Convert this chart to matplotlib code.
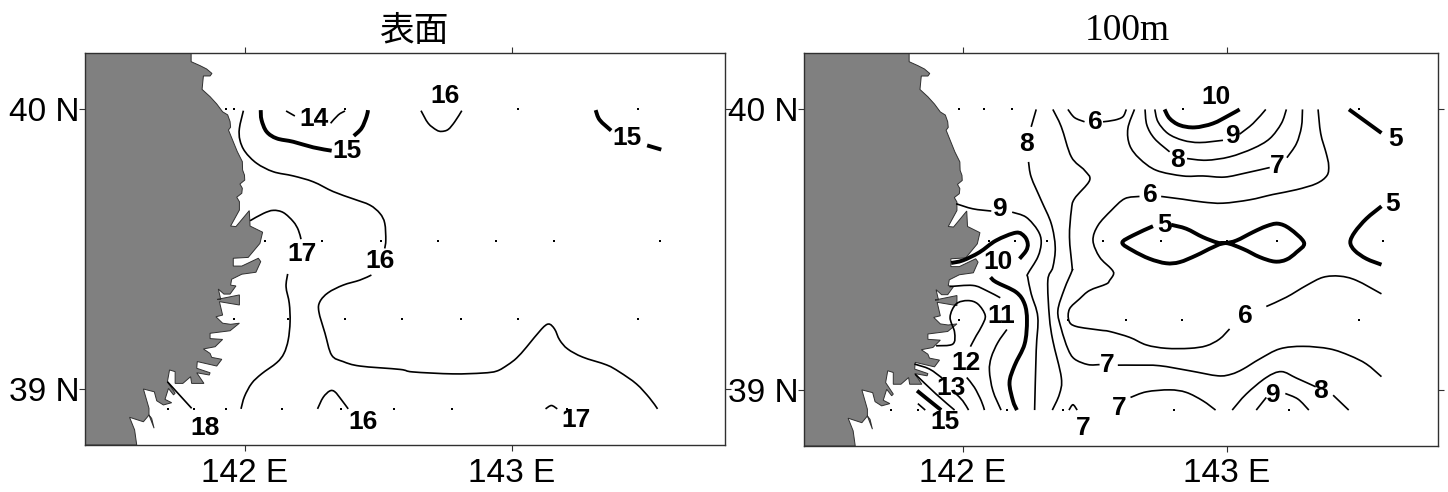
import matplotlib
matplotlib.use("Agg")
import matplotlib.pyplot as plt
from matplotlib.path import Path
from matplotlib.patches import PathPatch

plt.rcParams['font.family'] = ['Liberation Sans', 'Noto Sans CJK JP', 'DejaVu Sans']

# coast line, lon / lat
coast = [(141.798,40.20),(141.798,40.169),(141.831,40.155),(141.856,40.143),(141.876,40.127),(141.869,40.118),
    (141.844,40.118),(141.839,40.070),(141.869,40.044),(141.894,40.018),(141.916,39.990),(141.935,39.979),
    (141.944,39.955),(141.946,39.935),(141.938,39.925),(141.956,39.883),(141.971,39.848),(141.990,39.812),
    (141.991,39.782),(141.998,39.764),(141.999,39.746),(141.981,39.732),(141.990,39.717),(141.988,39.699),
    (141.969,39.685),(141.979,39.669),(141.979,39.639),(141.946,39.582),(141.966,39.580),(142.016,39.637),
    (142.019,39.582),(142.066,39.560),(142.056,39.520),(142.012,39.470),(141.956,39.467),(141.956,39.439),
    (141.988,39.439),(142.050,39.467),(142.059,39.455),(142.041,39.417),(141.988,39.410),(141.950,39.392),
    (141.946,39.371),(141.966,39.368),(141.944,39.339),(141.921,39.339),(141.900,39.357),(141.909,39.320),
    (141.896,39.320),(141.979,39.336),(141.979,39.300),(141.904,39.312),(141.916,39.264),(141.891,39.258),
    (141.916,39.235),(141.946,39.231),(141.979,39.235),(141.944,39.208),(141.869,39.199),(141.869,39.180),
    (141.916,39.177),(141.888,39.151),(141.844,39.143),(141.869,39.127),(141.875,39.113),(141.913,39.106),
    (141.894,39.082),(141.821,39.098),(141.819,39.074),(141.869,39.058),(141.866,39.050),(141.819,39.058),
    (141.846,39.020),(141.800,39.020),(141.796,39.044),(141.767,39.020),(141.738,39.020),(141.738,39.062),
    (141.717,39.068),(141.709,39.026),(141.738,38.985),(141.732,38.979),(141.713,39.002),(141.700,38.963),
    (141.725,38.951),(141.694,38.943),(141.669,38.958),(141.660,38.990),(141.619,39.000),(141.640,38.931),
    (141.640,38.907),(141.659,38.860),(141.650,38.895),(141.640,38.907),(141.619,38.883),(141.567,38.899),
    (141.586,38.854),(141.594,38.80),(141.40,38.80),(141.40,40.20)]

# station points
sfc_st_lon = [141.929,141.96,142.375,143.025,143.475,
    142.075,142.29,142.51,142.725,142.94,143.157,143.557,
    141.96,142.16,142.375,142.59,142.81,143.025,143.475,
    141.71,141.81,141.93,142.14,142.36,142.56,142.775,143.206]
sfc_st_lat = [40.0]*5 + [39.53]*7 + [39.25]*7 + [38.93]*8
m100_st_lon = [141.985,142.083,142.186,142.833,143.5,
    142.10,142.20,142.32,142.53,142.75,143.0,143.19,143.59,
    141.985,142.40,142.62,142.83,143.5,
    141.73,141.83,142.17,142.38,142.80,143.235]
m100_st_lat = [40.0]*5 + [39.53]*8 + [39.25]*5 + [38.93]*6

# surface contours
s16_a = [(141.994,39.994),(141.979,39.931),(141.981,39.889),(142.000,39.848),(142.044,39.806),(142.106,39.776),
    (142.181,39.761),(142.256,39.740),(142.331,39.705),(142.406,39.679),(142.468,39.657),(142.506,39.627),
    (142.524,39.592),(142.528,39.532),(142.524,39.502)]
s16_b = [(142.474,39.407),(142.431,39.389),(142.368,39.371),(142.312,39.344),(142.281,39.312),(142.277,39.276),
    (142.300,39.199),(142.325,39.121),(142.368,39.098),(142.431,39.082),(142.581,39.070),(142.629,39.061),
    (142.779,39.054),(142.891,39.057),(142.944,39.064),(142.985,39.086),(143.019,39.111),(143.056,39.150),
    (143.112,39.214),(143.139,39.232),(143.161,39.214),(143.180,39.175),(143.210,39.143),(143.266,39.114),
    (143.356,39.086),(143.404,39.061),(143.468,39.018),(143.517,38.968),(143.547,38.929)]
s16_top = [(142.660,39.994),(142.687,39.949),(142.718,39.925),(142.737,39.920),(142.762,39.927),(142.787,39.955),(142.813,39.994)]
s16_low = [(142.272,38.929),(142.293,38.970),(142.318,38.993),(142.337,38.990),(142.362,38.961),(142.387,38.929)]
s17_a = [(142.019,39.601),(142.069,39.627),(142.106,39.638),(142.144,39.630),(142.181,39.598),(142.200,39.568),(142.210,39.535)]
s17_b = [(142.160,39.411),(142.154,39.365),(142.166,39.306),(142.169,39.240),(142.162,39.175),(142.146,39.127),
    (142.119,39.094),(142.062,39.054),(142.025,39.020),(141.998,38.973),(141.985,38.929)]
s17_low = [(143.127,38.929),(143.149,38.941),(143.171,38.929)]
s18 = [(141.709,39.026),(141.800,38.931)]
s14_a = [(142.154,39.993),(142.187,39.975)]
s14_b = [(142.321,39.949),(142.350,39.979),(142.375,39.993)]
s15_a = [(142.059,39.996),(142.062,39.961),(142.081,39.919),(142.119,39.895),(142.181,39.883),(142.256,39.863),(142.325,39.851)]
s15_b = [(142.408,39.904),(142.437,39.931),(142.456,39.973),(142.461,39.996)]
s15_c = [(143.315,39.996),(143.330,39.961),(143.373,39.923)]
s15_d = [(143.508,39.870),(143.561,39.855)]
sfc_thin = [s16_a,s16_b,s16_top,s16_low,s17_a,s17_b,s17_low,s18,s14_a,s14_b]
sfc_thick = [s15_a,s15_b,s15_c,s15_d]

sfc_lab_txt = ['14','15','16','15','17','16','18','16','17']
sfc_lab_lon = [142.258,142.382,142.749,143.434,142.213,142.506,141.850,142.442,143.243]
sfc_lab_lat = [39.964,39.850,40.046,39.896,39.482,39.457,38.861,38.882,38.889]

# 100m contours
r5_a = [(143.463,39.999),(143.586,39.915)]
r5_b = [(143.586,39.654),(143.529,39.610),(143.485,39.562),(143.468,39.526),(143.485,39.496),(143.529,39.467),(143.586,39.446)]
r5_c = [(142.721,39.583),(142.645,39.550),(142.605,39.524),(142.645,39.496),(142.708,39.467),(142.771,39.451),
    (142.822,39.455),(142.885,39.479),(142.948,39.508),(142.996,39.523),(143.062,39.502),(143.125,39.473),
    (143.182,39.457),(143.226,39.464),(143.264,39.490),(143.293,39.524),(143.239,39.574),(143.194,39.592),
    (143.150,39.583),(143.100,39.562),(143.037,39.532),(142.996,39.523),(142.967,39.524),(142.910,39.544),
    (142.847,39.574),(142.790,39.588)]
r10_a = [(142.765,39.999),(142.784,39.967),(142.822,39.943),(142.879,39.935),(142.948,39.949),(143.011,39.979),(143.049,39.999)]
r10_b = [(141.957,39.452),(142.001,39.461),(142.064,39.490),(142.127,39.532),(142.203,39.560),(142.235,39.546),
    (142.247,39.520),(142.241,39.496),(142.216,39.467)]
r10_c = [(142.106,39.401),(142.127,39.384),(142.203,39.348),(142.235,39.306),(142.244,39.247),(142.235,39.163),
    (142.197,39.086),(142.178,39.026),(142.191,38.961),(142.206,38.928)]
r15 = [(141.828,38.997),(141.862,38.971),(141.919,38.928)]
m100_thick = [r5_a,r5_b,r5_c,r10_a,r10_b,r10_c,r15]

r9_a = [(142.728,39.999),(142.740,39.955),(142.778,39.913),(142.835,39.889),(142.898,39.881),(142.986,39.889)]
r9_b = [(143.049,39.911),(143.100,39.949),(143.148,39.999)]
r8_a = [(142.691,39.999),(142.698,39.943),(142.727,39.895),(142.784,39.848)]
r8_b = [(142.850,39.824),(142.923,39.818),(143.011,39.830),(143.100,39.860),(143.163,39.895),(143.207,39.949),(143.226,39.999)]
r7_a = [(142.651,39.999),(142.626,39.931),(142.633,39.871),(142.670,39.824),(142.734,39.782),(142.835,39.762),
    (142.910,39.762),(142.992,39.758),(143.074,39.773),(143.163,39.792)]
r7_b = [(143.228,39.827),(143.264,39.877),(143.283,39.937),(143.287,39.999)]
r6_a = [(142.620,39.999),(142.607,39.973),(142.576,39.961),(142.532,39.955)]
r6_b = [(142.399,39.999),(142.424,39.970),(142.462,39.955)]
r6_c = [(143.346,39.999),(143.356,39.913),(143.377,39.842),(143.386,39.800),(143.380,39.764),(143.340,39.735),
    (143.264,39.713),(143.175,39.696),(143.087,39.677),(142.986,39.665),(142.910,39.669),(142.835,39.679),(142.752,39.689)]
r6_d = [(142.670,39.689),(142.614,39.681),(142.563,39.639),(142.513,39.586),(142.494,39.532),(142.519,39.473),
    (142.563,39.431),(142.572,39.413),(142.557,39.390),(142.544,39.377),(142.481,39.354),(142.443,39.324),
    (142.405,39.288),(142.403,39.246),(142.430,39.226),(142.519,39.213),(142.557,39.208),(142.633,39.187),
    (142.696,39.160),(142.771,39.148),(142.860,39.148),(142.923,39.157),(142.973,39.181),(143.011,39.217)]
r6_e = [(143.150,39.297),(143.226,39.330),(143.302,39.372),(143.365,39.401),(143.428,39.405),(143.491,39.390),(143.586,39.342)]
r7_c = [(143.586,39.047),(143.529,39.092),(143.466,39.122),(143.390,39.146),(143.289,39.155),(143.201,39.146),
    (143.125,39.110),(143.062,39.074),(143.018,39.056),(142.967,39.050),(142.860,39.068),(142.746,39.086),
    (142.658,39.088),(142.588,39.088)]
r7_d = [(142.519,39.090),(142.475,39.090),(142.424,39.110),(142.399,39.146),(142.374,39.217),(142.361,39.282),
    (142.386,39.360),(142.415,39.425),(142.415,39.437),(142.405,39.544),(142.412,39.639),(142.424,39.681),
    (142.481,39.746),(142.462,39.782),(142.412,39.830),(142.374,39.937),(142.342,39.999)]
r8_c = [(142.279,39.999),(142.260,39.937)]
r8_d = [(142.250,39.812),(142.260,39.758),(142.298,39.675),(142.336,39.592),(142.351,39.508),(142.342,39.437),
    (142.323,39.390),(142.329,39.259),(142.342,39.175),(142.374,39.044),(142.367,38.985),(142.340,38.928)]
r9_c = [(141.976,39.663),(142.039,39.645),(142.109,39.637)]
r9_d = [(142.188,39.633),(142.241,39.615),(142.285,39.568),(142.298,39.526),(142.285,39.473),(142.247,39.413),
    (142.247,39.401),(142.260,39.342),(142.285,39.259),(142.279,39.140),(142.273,38.928)]
r11_a = [(141.951,39.368),(142.039,39.372),(142.090,39.354),(142.143,39.328)]
r11_b = [(142.168,39.215),(142.134,39.169),(142.109,39.116),(142.102,39.068),(142.115,38.997),(142.146,38.928)]
r12_a = [(141.900,39.157),(141.963,39.163),(141.970,39.205),(141.953,39.259),(141.976,39.306),(142.020,39.318),
    (142.058,39.306),(142.086,39.265),(142.074,39.229),(142.052,39.193),(142.030,39.154)]
r12_b = [(142.016,39.044),(142.045,39.009),(142.071,38.961),(142.083,38.928)]
r13_a = [(141.818,39.092),(141.875,39.074),(141.923,39.042)]
r13_b = [(141.976,38.985),(142.001,38.961),(142.023,38.928)]
r14 = [(141.821,39.056),(141.900,38.985),(141.970,38.928)]
r16 = [(141.831,38.951),(141.859,38.928)]
r7_e = [(142.403,38.928),(142.418,38.947),(142.434,38.928)]
r7_f = [(142.636,38.973),(142.696,38.993),(142.784,39.000),(142.847,38.991),(142.910,38.961),(142.958,38.928)]
r8_e = [(143.021,38.928),(143.074,38.985),(143.150,39.044),(143.207,39.065),(143.264,39.042),(143.337,39.011)]
r8_f = [(143.403,38.981),(143.462,38.928)]
r9_e = [(143.112,38.928),(143.150,38.973)]
r9_f = [(143.222,38.987),(143.270,38.967),(143.311,38.928)]
m100_thin = [r9_a,r9_b,r8_a,r8_b,r7_a,r7_b,r6_a,r6_b,r6_c,r6_d,r6_e,r7_c,r7_d,r8_c,r8_d,r9_c,r9_d,
    r11_a,r11_b,r12_a,r12_b,r13_a,r13_b,r14,r16,r7_e,r7_f,r8_e,r8_f,r9_e,r9_f]

m100_lab_txt = ['10','6','9','8','7','5','8','6','5','9','5','10','11','6','12','7','13','8','9','7','15','7']
m100_lab_lon = [142.958,142.504,143.023,142.814,143.193,143.640,142.242,142.712,143.629,142.140,142.765,142.136,
    142.148,143.072,142.015,142.549,141.958,143.356,143.174,142.595,141.932,142.458]
m100_lab_lat = [40.043,39.954,39.904,39.818,39.796,39.893,39.875,39.693,39.661,39.643,39.589,39.454,
    39.264,39.264,39.096,39.089,39.007,38.996,38.982,38.936,38.886,38.864]


# bezier path through the read points so the contours are round, not angular
def smooth(seg):
    verts = [seg[0]]
    codes = [Path.MOVETO]
    n = len(seg)
    for i in range(n - 1):
        p0 = seg[max(i - 1, 0)]
        p1 = seg[i]
        p2 = seg[i + 1]
        p3 = seg[min(i + 2, n - 1)]
        c1 = (p1[0] + (p2[0] - p0[0]) / 6, p1[1] + (p2[1] - p0[1]) / 6)
        c2 = (p2[0] - (p3[0] - p1[0]) / 6, p2[1] - (p3[1] - p1[1]) / 6)
        verts += [c1, c2, p2]
        codes += [Path.CURVE4] * 3
    return Path(verts, codes)


def draw(ax, thin, thick, st_lon, st_lat, lab_txt, lab_lon, lab_lat):
    ax.fill([p[0] for p in coast], [p[1] for p in coast], facecolor='#808080', edgecolor='#303030', lw=0.7, zorder=1)
    ax.plot(st_lon, st_lat, 's', color='black', ms=1.7, mew=0, zorder=2)
    for seg in thin:
        ax.add_patch(PathPatch(smooth(seg), fc='none', ec='black', lw=1.2, zorder=3))
    for seg in thick:
        ax.add_patch(PathPatch(smooth(seg), fc='none', ec='black', lw=2.8, zorder=3))
    for t, x, y in zip(lab_txt, lab_lon, lab_lat):
        ax.text(x, y, t, fontsize=19, fontweight='bold', ha='center', va='center', zorder=4)
    ax.set_xlim(141.40, 143.80)
    ax.set_ylim(38.80, 40.20)
    ax.set_xticks([142, 143], ['142 E', '143 E'])
    ax.set_yticks([39, 40], ['39 N', '40 N'])
    ax.tick_params(top=True, right=True, length=4, width=0.8, color='#303030', labelsize=24, pad=0)
    ax.tick_params(axis='x', pad=5)
    for s in ax.spines.values():
        s.set_color('#303030')
        s.set_linewidth(1.0)


fig = plt.figure(figsize=(14.48, 4.92), dpi=100)
ax1 = fig.add_axes([85/1448, 1-445/492, 640/1448, 392/492])
ax2 = fig.add_axes([804/1448, 1-446/492, 634/1448, 393/492])

draw(ax1, sfc_thin, sfc_thick, sfc_st_lon, sfc_st_lat, sfc_lab_txt, sfc_lab_lon, sfc_lab_lat)
draw(ax2, m100_thin, m100_thick, m100_st_lon, m100_st_lat, m100_lab_txt, m100_lab_lon, m100_lab_lat)

fig.text(414/1448, 1-31/492, '表面', fontsize=25, ha='center', va='center', family=['Noto Sans CJK JP'])
fig.text(1127/1448, 1-31/492, '100m', fontsize=27, ha='center', va='center', family=['Liberation Serif'])

fig.savefig('out.png', dpi=100)
